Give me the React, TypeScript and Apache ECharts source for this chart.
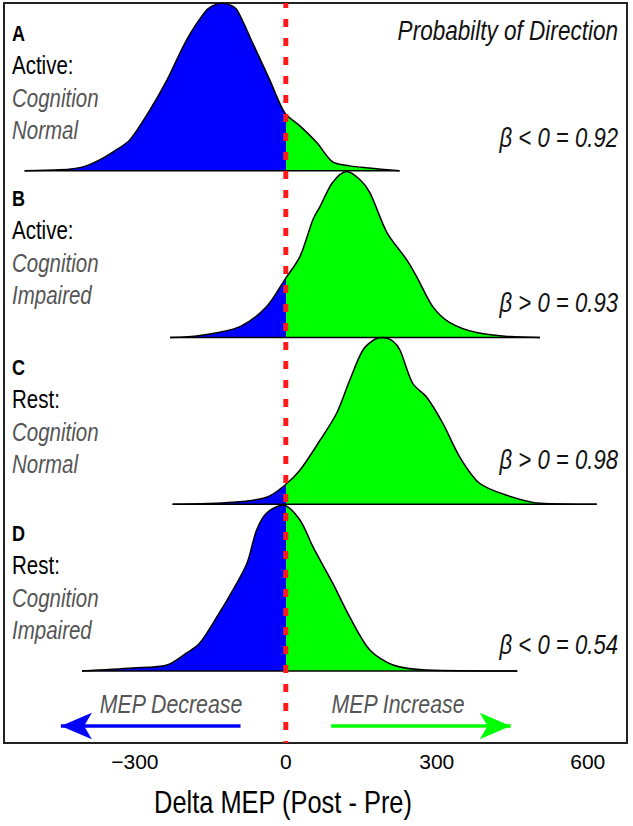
import React, { useEffect, useRef } from "react";
import * as echarts from "echarts";

// ---- data ----
const tickValues = [-300, 0, 300, 600];
const ridgeLetters = ["A", "B", "C", "D"];
const conditionLabels = ["Active:", "Active:", "Rest:", "Rest:"];
const cognitionLabels = ["Normal", "Impaired", "Normal", "Impaired"];
const probLabels = ["β < 0 = 0.92", "β > 0 = 0.93", "β > 0 = 0.98", "β < 0 = 0.54"];
const ridgeBase = [3, 2, 1, 0];

// A: Active, cognition normal
const ridgeAx = [-519, -449, -403, -370, -340, -310, -270, -236, -197, -157, -141, -127, -111, -97, -66, -32, -2, 28, 62, 93, 127, 161, 226];
const ridgeAh = [0, 0.006, 0.024, 0.066, 0.12, 0.186, 0.366, 0.546, 0.786, 0.966, 0.996, 1.005, 0.996, 0.966, 0.768, 0.546, 0.348, 0.27, 0.168, 0.054, 0.03, 0.018, 0];
// B: Active, cognition impaired
const ridgeBx = [-230, -171, -91, -38, -2, 28, 54, 68, 93, 121, 147, 167, 201, 240, 260, 292, 326, 379, 445, 505];
const ridgeBh = [0, 0.012, 0.066, 0.186, 0.348, 0.486, 0.708, 0.786, 0.93, 0.996, 0.948, 0.87, 0.63, 0.468, 0.366, 0.186, 0.09, 0.03, 0.006, 0];
// C: Rest, cognition normal
const ridgeCx = [-225, -105, -38, -2, 28, 68, 101, 127, 153, 177, 193, 213, 227, 252, 280, 312, 346, 385, 439, 505, 618];
const ridgeCh = [0, 0.012, 0.042, 0.114, 0.204, 0.384, 0.546, 0.744, 0.924, 0.99, 1.0, 0.978, 0.924, 0.726, 0.642, 0.486, 0.282, 0.126, 0.054, 0.006, 0];
// D: Rest, cognition impaired
const ridgeDx = [-405, -304, -236, -197, -171, -137, -105, -77, -58, -38, -6, 28, 54, 93, 127, 167, 213, 280, 460];
const ridgeDh = [0, 0.018, 0.036, 0.108, 0.168, 0.324, 0.486, 0.648, 0.846, 0.948, 0.996, 0.906, 0.744, 0.528, 0.324, 0.126, 0.036, 0.006, 0];

const ridgeX = [ridgeAx, ridgeBx, ridgeCx, ridgeDx];
const ridgeH = [ridgeAh, ridgeBh, ridgeCh, ridgeDh];

const arrowDecrease = [-90, -447];
const arrowIncrease = [90, 447];
const arrowLevel = -0.33;

const FONT = '"Liberation Sans", Arial, sans-serif';
const NARROW = 0.82;

export default function App() {
  const ref = useRef<HTMLDivElement>(null);
  useEffect(() => {
    if (!ref.current) return;
    const chart = echarts.init(ref.current, null, { renderer: "svg" });
    const xMin = -560;
    const xMax = 678;
    const yMin = -0.432;
    const yMax = 4.007;

    const series: any[] = [];
    const areaIdx: number[] = [];
    ridgeX.forEach((xs, i) => {
      const base = ridgeBase[i];
      areaIdx.push(series.length);
      series.push({
        type: "line",
        name: ridgeLetters[i],
        data: xs.map((x, j) => [x, base + ridgeH[i][j]]),
        smooth: 0.3,
        showSymbol: false,
        silent: true,
        lineStyle: { color: "#000", width: 1.5 },
        areaStyle: { origin: base, opacity: 1 },
      });
      series.push({
        type: "line",
        data: [
          [xs[0], base],
          [xs[xs.length - 1], base],
        ],
        showSymbol: false,
        silent: true,
        lineStyle: { color: "#000", width: 1.5 },
      });
    });
    series.push({
      type: "line",
      data: [
        [0, yMax],
        [0, yMin],
      ],
      showSymbol: false,
      silent: true,
      lineStyle: { color: "#ff1a1a", width: 5, type: [8, 11], dashOffset: 3 },
    });
    const arrow = (pts: number[], color: string) => ({
      type: "line",
      data: [],
      silent: true,
      color,
      markLine: {
        silent: true,
        animation: false,
        symbol: ["none", "arrow"],
        symbolSize: 30,
        label: { show: false },
        itemStyle: { color },
        lineStyle: { color, width: 3.5, type: "solid" },
        data: [[{ coord: [pts[0], arrowLevel] }, { coord: [pts[1], arrowLevel], symbolSize: [20, 31] }]],
      },
    });
    series.push(arrow(arrowDecrease, "#0000ff"));
    series.push(arrow(arrowIncrease, "#00ff00"));

    const txt = (text: string, x: number, y: number, font: string, fill: string, align: string) => ({
      type: "text",
      x,
      y,
      scaleX: NARROW,
      style: { text, font, fill, textAlign: align, textVerticalAlign: "middle" },
    });

    const graphics: any[] = [];
    const letterY = [33, 198, 367, 533];
    const probY = [138, 303, 460, 645];
    const step = 32.5;
    ridgeLetters.forEach((l, i) => {
      const y0 = letterY[i];
      graphics.push(txt(l, 12, y0, `bold 22px ${FONT}`, "#000", "left"));
      graphics.push(txt(conditionLabels[i], 12, y0 + step, `25px ${FONT}`, "#000", "left"));
      graphics.push(txt("Cognition", 12, y0 + 2 * step, `italic 25px ${FONT}`, "#555", "left"));
      graphics.push(txt(cognitionLabels[i], 12, y0 + 3 * step, `italic 25px ${FONT}`, "#555", "left"));
      graphics.push(txt(probLabels[i], 618, probY[i], `italic 27px ${FONT}`, "#111", "right"));
    });
    graphics.push(txt("Probabilty of Direction", 618, 30, `italic 27.5px ${FONT}`, "#111", "right"));
    graphics.push(txt("MEP Decrease", 171, 704, `italic 26px ${FONT}`, "#555", "center"));
    graphics.push(txt("MEP Increase", 398, 704, `italic 26px ${FONT}`, "#555", "center"));
    graphics.push(txt("Delta MEP (Post - Pre)", 283, 802, `31px ${FONT}`, "#000", "center"));

    chart.setOption({
      animation: false,
      backgroundColor: "#fff",
      grid: { left: 4, right: 6, top: 3, bottom: 83, show: true, borderColor: "#222", borderWidth: 2, backgroundColor: "transparent", containLabel: false },
      xAxis: {
        type: "value",
        min: xMin,
        max: xMax,
        axisLine: { show: false },
        axisTick: { show: false },
        splitLine: { show: false },
        axisLabel: {
          customValues: tickValues,
          margin: 8,
          fontSize: 21,
          fontFamily: FONT,
          color: "#000",
          formatter: (v: number) => String(v).replace("-", "\u2212"),
        },
      },
      yAxis: { type: "value", min: yMin, max: yMax, show: false },
      visualMap: {
        type: "piecewise",
        show: false,
        dimension: 0,
        seriesIndex: areaIdx,
        pieces: [
          { gte: xMin, lt: 0, color: "#0000ff" },
          { gte: 0, lte: xMax, color: "#00ff00" },
        ],
      },
      series,
      graphic: graphics,
    });
    return () => chart.dispose();
  }, []);
  return <div ref={ref} style={{ position: "fixed", left: 0, top: 0, width: 633, height: 826, background: "#fff" }} />;
}
